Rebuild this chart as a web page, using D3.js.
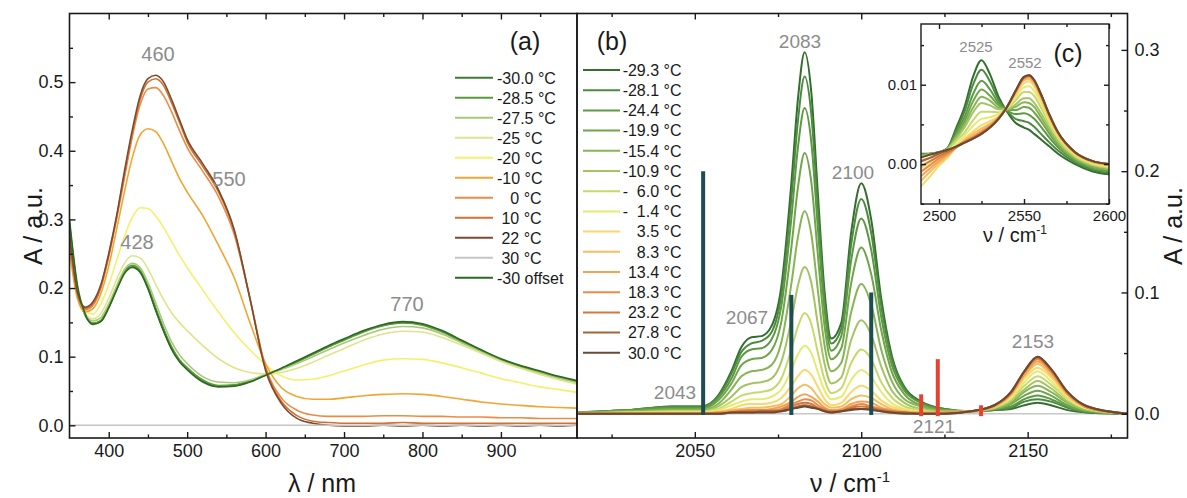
<!DOCTYPE html>
<html>
<head>
<meta charset="utf-8">
<script src="https://cdn.jsdelivr.net/npm/d3@7"></script>
<style>
  body { margin: 0; background: #fff; }
  svg text { font-family: "Liberation Sans", Arial, sans-serif; }
</style>
</head>
<body>
<div id="chart"></div>
<script>
const WIDTH = 1187;
const HEIGHT = 498;

// ---------- (a) UV-vis ----------
const wavelengths = [350, 360, 370, 380, 390, 400, 410, 420, 430, 440, 450, 460, 470, 480, 490, 500, 520, 540, 560, 580,
  600, 620, 640, 660, 680, 700, 725, 750, 775, 800, 825, 850, 875, 900, 925, 950, 975, 997];
const uv_m30_0 = [0.295, 0.200, 0.160, 0.148, 0.152, 0.172, 0.198, 0.222, 0.231, 0.224, 0.200, 0.168, 0.138, 0.112, 0.094, 0.082, 0.064, 0.057, 0.058, 0.064,
  0.073, 0.082, 0.093, 0.104, 0.115, 0.125, 0.137, 0.146, 0.150, 0.147, 0.137, 0.123, 0.109, 0.096, 0.086, 0.078, 0.070, 0.064];
const uv_m28_5 = [0.290, 0.200, 0.161, 0.149, 0.153, 0.173, 0.200, 0.224, 0.233, 0.226, 0.203, 0.171, 0.141, 0.115, 0.096, 0.084, 0.066, 0.058, 0.059, 0.065,
  0.074, 0.082, 0.092, 0.103, 0.114, 0.124, 0.136, 0.145, 0.149, 0.146, 0.136, 0.122, 0.108, 0.095, 0.085, 0.077, 0.069, 0.063];
const uv_m27_5 = [0.280, 0.200, 0.163, 0.152, 0.157, 0.177, 0.203, 0.227, 0.236, 0.230, 0.208, 0.178, 0.148, 0.122, 0.103, 0.090, 0.071, 0.063, 0.062, 0.066,
  0.074, 0.081, 0.090, 0.100, 0.110, 0.120, 0.131, 0.140, 0.144, 0.142, 0.133, 0.120, 0.107, 0.094, 0.084, 0.076, 0.068, 0.062];
const uv_m25 = [0.270, 0.195, 0.162, 0.155, 0.163, 0.185, 0.212, 0.236, 0.247, 0.244, 0.228, 0.205, 0.183, 0.164, 0.150, 0.138, 0.116, 0.097, 0.084, 0.077,
  0.075, 0.077, 0.083, 0.092, 0.102, 0.112, 0.124, 0.133, 0.137, 0.136, 0.128, 0.117, 0.105, 0.093, 0.083, 0.074, 0.066, 0.060];
const uv_m20 = [0.260, 0.190, 0.165, 0.162, 0.177, 0.205, 0.240, 0.275, 0.303, 0.317, 0.316, 0.305, 0.288, 0.268, 0.248, 0.230, 0.197, 0.165, 0.135, 0.110,
  0.088, 0.072, 0.066, 0.067, 0.072, 0.079, 0.088, 0.095, 0.097, 0.096, 0.091, 0.084, 0.076, 0.068, 0.062, 0.056, 0.052, 0.048];
const uv_m10 = [0.255, 0.185, 0.165, 0.170, 0.192, 0.232, 0.285, 0.340, 0.390, 0.423, 0.432, 0.428, 0.410, 0.385, 0.360, 0.340, 0.305, 0.262, 0.215, 0.150,
  0.090, 0.055, 0.042, 0.038, 0.038, 0.040, 0.043, 0.045, 0.046, 0.045, 0.042, 0.038, 0.034, 0.031, 0.029, 0.027, 0.026, 0.025];
const uv_0 = [0.265, 0.190, 0.168, 0.175, 0.200, 0.245, 0.300, 0.360, 0.420, 0.467, 0.490, 0.492, 0.480, 0.457, 0.430, 0.405, 0.370, 0.333, 0.278, 0.185,
  0.085, 0.040, 0.022, 0.015, 0.013, 0.013, 0.013, 0.014, 0.014, 0.013, 0.013, 0.012, 0.012, 0.011, 0.011, 0.010, 0.010, 0.010];
const uv_10 = [0.270, 0.193, 0.170, 0.177, 0.202, 0.248, 0.303, 0.365, 0.425, 0.475, 0.500, 0.505, 0.495, 0.470, 0.442, 0.413, 0.377, 0.340, 0.283, 0.185,
  0.083, 0.035, 0.014, 0.006, 0.004, 0.003, 0.003, 0.003, 0.004, 0.003, 0.003, 0.003, 0.003, 0.003, 0.003, 0.003, 0.003, 0.003];
const uv_22 = [0.280, 0.195, 0.172, 0.180, 0.205, 0.250, 0.305, 0.370, 0.430, 0.480, 0.505, 0.510, 0.500, 0.475, 0.446, 0.417, 0.381, 0.343, 0.285, 0.185,
  0.080, 0.032, 0.010, 0.003, 0.000, -0.001, -0.001, 0.000, -0.001, 0.000, -0.001, 0.000, -0.001, 0.000, -0.001, 0.000, -0.001, 0.000];
const uv_30 = [0, 0, 0, 0, 0, 0, 0, 0, 0, 0, 0, 0, 0, 0, 0, 0, 0, 0, 0, 0,
  0, 0, 0, 0, 0, 0, 0, 0, 0, 0, 0, 0, 0, 0, 0, 0, 0, 0];
const uv_m30_offset = [0.300, 0.205, 0.162, 0.147, 0.151, 0.171, 0.197, 0.221, 0.230, 0.223, 0.199, 0.167, 0.137, 0.111, 0.093, 0.081, 0.063, 0.056, 0.057, 0.063,
  0.073, 0.083, 0.094, 0.105, 0.116, 0.126, 0.138, 0.147, 0.151, 0.148, 0.138, 0.124, 0.110, 0.097, 0.087, 0.079, 0.071, 0.065];
const uvLabels = ["-30.0 °C", "-28.5 °C", "-27.5 °C", "-25 °C", "-20 °C", "-10 °C", "   0 °C", " 10 °C", " 22 °C", " 30 °C", "-30 offset"];
const uvColors = ["#3f7b30", "#5b9a3a", "#a9c877", "#dfe48c", "#f5f06c", "#f1a532", "#eb8c46", "#d07232", "#7b4a30", "#c4c4c4", "#2c6a24"];
const uvSeries = [uv_m30_0, uv_m28_5, uv_m27_5, uv_m25, uv_m20, uv_m10, uv_0, uv_10, uv_22, uv_30, uv_m30_offset];

// ---------- (b) IR, CN stretch ----------
const wavenumbers = [2015, 2030, 2043, 2052, 2057, 2061, 2064, 2067, 2070, 2073, 2076, 2079, 2081, 2083, 2085, 2087, 2089, 2091,
  2094, 2097, 2100, 2103, 2106, 2109, 2113, 2118, 2125, 2133, 2140, 2145, 2149, 2153, 2157, 2162, 2168, 2180];
const ir_m29_3 = [0.001, 0.003, 0.006, 0.006, 0.015, 0.035, 0.055, 0.063, 0.064, 0.072, 0.105, 0.190, 0.260, 0.298, 0.265, 0.180, 0.100, 0.062,
  0.075, 0.150, 0.190, 0.160, 0.095, 0.050, 0.022, 0.010, 0.004, 0.002, 0.003, 0.004, 0.007, 0.009, 0.007, 0.003, 0.001, 0.000];
const ir_m28_1 = [0.001, 0.003, 0.006, 0.006, 0.014, 0.033, 0.051, 0.058, 0.060, 0.067, 0.098, 0.177, 0.242, 0.278, 0.247, 0.168, 0.093, 0.058,
  0.070, 0.140, 0.177, 0.149, 0.089, 0.047, 0.021, 0.009, 0.004, 0.002, 0.003, 0.005, 0.010, 0.012, 0.010, 0.005, 0.001, 0.000];
const ir_m24_4 = [0.001, 0.003, 0.005, 0.005, 0.013, 0.029, 0.047, 0.053, 0.054, 0.061, 0.089, 0.161, 0.220, 0.252, 0.224, 0.152, 0.085, 0.052,
  0.064, 0.127, 0.161, 0.135, 0.080, 0.042, 0.019, 0.009, 0.003, 0.002, 0.004, 0.006, 0.012, 0.015, 0.012, 0.006, 0.002, 0.000];
const ir_m19_9 = [0.001, 0.002, 0.004, 0.004, 0.011, 0.025, 0.040, 0.045, 0.046, 0.052, 0.076, 0.137, 0.187, 0.215, 0.191, 0.130, 0.072, 0.045,
  0.054, 0.108, 0.137, 0.115, 0.069, 0.036, 0.016, 0.007, 0.003, 0.002, 0.004, 0.008, 0.015, 0.019, 0.015, 0.007, 0.002, 0.000];
const ir_m15_4 = [0.001, 0.002, 0.003, 0.003, 0.008, 0.020, 0.031, 0.035, 0.036, 0.040, 0.059, 0.107, 0.146, 0.167, 0.148, 0.101, 0.056, 0.035,
  0.042, 0.084, 0.107, 0.090, 0.053, 0.028, 0.012, 0.006, 0.002, 0.002, 0.004, 0.009, 0.018, 0.023, 0.018, 0.009, 0.003, 0.000];
const ir_m10_9 = [0.000, 0.001, 0.002, 0.002, 0.006, 0.014, 0.022, 0.025, 0.026, 0.029, 0.043, 0.077, 0.106, 0.121, 0.108, 0.073, 0.041, 0.025,
  0.030, 0.061, 0.077, 0.065, 0.039, 0.020, 0.009, 0.004, 0.002, 0.002, 0.005, 0.011, 0.020, 0.027, 0.021, 0.010, 0.003, 0.000];
const ir_m6_0 = [0.000, 0.001, 0.002, 0.002, 0.004, 0.010, 0.015, 0.017, 0.018, 0.020, 0.029, 0.053, 0.072, 0.083, 0.074, 0.050, 0.028, 0.017,
  0.021, 0.042, 0.053, 0.045, 0.026, 0.014, 0.006, 0.003, 0.001, 0.002, 0.005, 0.012, 0.023, 0.031, 0.024, 0.012, 0.004, 0.000];
const ir_m1_4 = [0.000, 0.001, 0.001, 0.001, 0.003, 0.007, 0.010, 0.012, 0.012, 0.014, 0.020, 0.036, 0.049, 0.056, 0.050, 0.034, 0.019, 0.012,
  0.014, 0.028, 0.036, 0.030, 0.018, 0.009, 0.004, 0.002, 0.001, 0.002, 0.006, 0.013, 0.026, 0.035, 0.027, 0.013, 0.004, 0.000];
const ir_3_5 = [0.000, 0.000, 0.001, 0.001, 0.002, 0.004, 0.007, 0.008, 0.008, 0.009, 0.013, 0.023, 0.031, 0.036, 0.032, 0.022, 0.012, 0.007,
  0.009, 0.018, 0.023, 0.019, 0.011, 0.006, 0.003, 0.001, 0.001, 0.002, 0.006, 0.015, 0.029, 0.038, 0.030, 0.014, 0.005, 0.000];
const ir_8_3 = [0.000, 0.000, 0.000, 0.000, 0.001, 0.003, 0.004, 0.005, 0.005, 0.006, 0.008, 0.015, 0.021, 0.024, 0.021, 0.014, 0.008, 0.005,
  0.006, 0.012, 0.015, 0.013, 0.008, 0.004, 0.002, 0.001, 0.001, 0.002, 0.006, 0.016, 0.031, 0.041, 0.032, 0.016, 0.005, 0.000];
const ir_13_4 = [0.000, 0.000, 0.000, 0.000, 0.001, 0.002, 0.003, 0.003, 0.003, 0.004, 0.006, 0.010, 0.014, 0.016, 0.014, 0.010, 0.005, 0.003,
  0.004, 0.008, 0.010, 0.009, 0.005, 0.003, 0.001, 0.001, 0.001, 0.002, 0.006, 0.016, 0.032, 0.043, 0.034, 0.016, 0.005, 0.000];
const ir_18_3 = [0.000, 0.000, 0.000, 0.000, 0.001, 0.001, 0.002, 0.003, 0.003, 0.003, 0.004, 0.008, 0.010, 0.012, 0.011, 0.007, 0.004, 0.002,
  0.003, 0.006, 0.008, 0.006, 0.004, 0.002, 0.001, 0.000, 0.001, 0.002, 0.007, 0.017, 0.034, 0.045, 0.035, 0.017, 0.005, 0.000];
const ir_23_2 = [0.000, 0.000, 0.000, 0.000, 0.000, 0.001, 0.002, 0.002, 0.002, 0.002, 0.003, 0.006, 0.008, 0.009, 0.008, 0.005, 0.003, 0.002,
  0.002, 0.005, 0.006, 0.005, 0.003, 0.002, 0.001, 0.000, 0.000, 0.002, 0.007, 0.017, 0.035, 0.046, 0.036, 0.017, 0.006, 0.000];
const ir_27_8 = [0.000, 0.000, 0.000, 0.000, 0.000, 0.001, 0.001, 0.001, 0.002, 0.002, 0.002, 0.004, 0.006, 0.007, 0.006, 0.004, 0.002, 0.001,
  0.002, 0.004, 0.004, 0.004, 0.002, 0.001, 0.001, 0.000, 0.000, 0.002, 0.007, 0.018, 0.035, 0.047, 0.037, 0.018, 0.006, 0.000];
const ir_30_0 = [0.000, 0.000, 0.000, 0.000, 0.000, 0.001, 0.001, 0.001, 0.001, 0.001, 0.002, 0.004, 0.005, 0.006, 0.005, 0.004, 0.002, 0.001,
  0.002, 0.003, 0.004, 0.003, 0.002, 0.001, 0.000, 0.000, 0.000, 0.002, 0.007, 0.018, 0.035, 0.047, 0.037, 0.018, 0.006, 0.000];
const irLabels = ["-29.3 °C", "-28.1 °C", "-24.4 °C", "-19.9 °C", "-15.4 °C", "-10.9 °C", "-  6.0 °C", "-  1.4 °C",
  "3.5 °C", "8.3 °C", "13.4 °C", "18.3 °C", "23.2 °C", "27.8 °C", "30.0 °C"];
const irColors = ["#336e2e", "#4b8a3f", "#5d9944", "#6fa649", "#87b455", "#a4c463", "#c6da6c", "#e7ea72",
  "#f9d86c", "#f3bf60", "#f1a456", "#ed8b46", "#d5763b", "#a7633a", "#6a4a35"];
const irSeries = [ir_m29_3, ir_m28_1, ir_m24_4, ir_m19_9, ir_m15_4, ir_m10_9, ir_m6_0, ir_m1_4,
  ir_3_5, ir_8_3, ir_13_4, ir_18_3, ir_23_2, ir_27_8, ir_30_0];

// calculated band positions (sticks)
const stickTealPos = [2052.5, 2079, 2103];
const stickTealHeight = [0.2, 0.098, 0.1];
const stickRedPos = [2118, 2123, 2136];
const stickRedHeight = [0.016, 0.045, 0.007];

// ---------- (c) inset, BH stretch ----------
const insetWavenumbers = [2489, 2495, 2500, 2505, 2510, 2515, 2520, 2525, 2530, 2535, 2540, 2545, 2550, 2553, 2556, 2560, 2565, 2570, 2580, 2590, 2600];
const bh_m29_3 = [0.0013, 0.0013, 0.0015, 0.0020, 0.0045, 0.0072, 0.0110, 0.0131, 0.0113, 0.0085, 0.0066, 0.0052, 0.0046, 0.0043, 0.0038, 0.0031, 0.0022, 0.0013, 0.0000, -0.0009, -0.0013];
const bh_m28_1 = [0.0012, 0.0013, 0.0015, 0.0020, 0.0042, 0.0066, 0.0100, 0.0119, 0.0104, 0.0081, 0.0067, 0.0057, 0.0054, 0.0052, 0.0047, 0.0038, 0.0027, 0.0017, 0.0002, -0.0007, -0.0011];
const bh_m24_4 = [0.0012, 0.0013, 0.0015, 0.0019, 0.0039, 0.0059, 0.0088, 0.0105, 0.0094, 0.0077, 0.0068, 0.0063, 0.0064, 0.0062, 0.0057, 0.0047, 0.0033, 0.0021, 0.0004, -0.0005, -0.0009];
const bh_m19_9 = [0.0011, 0.0013, 0.0015, 0.0019, 0.0036, 0.0054, 0.0079, 0.0094, 0.0086, 0.0074, 0.0068, 0.0068, 0.0072, 0.0071, 0.0065, 0.0054, 0.0038, 0.0024, 0.0006, -0.0004, -0.0008];
const bh_m15_4 = [0.0011, 0.0013, 0.0015, 0.0019, 0.0034, 0.0050, 0.0071, 0.0085, 0.0080, 0.0071, 0.0069, 0.0072, 0.0078, 0.0077, 0.0072, 0.0059, 0.0042, 0.0026, 0.0007, -0.0003, -0.0007];
const bh_m10_9 = [0.0010, 0.0012, 0.0015, 0.0019, 0.0032, 0.0046, 0.0065, 0.0077, 0.0074, 0.0069, 0.0069, 0.0075, 0.0083, 0.0083, 0.0077, 0.0064, 0.0045, 0.0029, 0.0009, -0.0001, -0.0005];
const bh_m6_0 = [0.0005, 0.0008, 0.0013, 0.0018, 0.0029, 0.0040, 0.0055, 0.0066, 0.0066, 0.0065, 0.0070, 0.0080, 0.0091, 0.0091, 0.0086, 0.0071, 0.0050, 0.0032, 0.0010, 0.0000, -0.0004];
const bh_m1_4 = [-0.0006, 0.0002, 0.0008, 0.0014, 0.0025, 0.0036, 0.0048, 0.0057, 0.0059, 0.0063, 0.0071, 0.0084, 0.0097, 0.0098, 0.0092, 0.0077, 0.0054, 0.0035, 0.0012, 0.0001, -0.0003];
const bh_3_5 = [-0.0029, -0.0015, -0.0002, 0.0008, 0.0021, 0.0032, 0.0041, 0.0049, 0.0054, 0.0060, 0.0071, 0.0087, 0.0102, 0.0104, 0.0098, 0.0081, 0.0057, 0.0037, 0.0013, 0.0002, -0.0002];
const bh_8_3 = [-0.0022, -0.0009, 0.0001, 0.0010, 0.0021, 0.0030, 0.0038, 0.0045, 0.0051, 0.0059, 0.0072, 0.0089, 0.0106, 0.0107, 0.0101, 0.0084, 0.0059, 0.0038, 0.0014, 0.0003, -0.0001];
const bh_13_4 = [-0.0016, -0.0005, 0.0004, 0.0012, 0.0021, 0.0029, 0.0035, 0.0042, 0.0049, 0.0058, 0.0072, 0.0090, 0.0107, 0.0109, 0.0103, 0.0086, 0.0060, 0.0039, 0.0014, 0.0003, -0.0001];
const bh_18_3 = [-0.0010, -0.0001, 0.0007, 0.0013, 0.0021, 0.0028, 0.0034, 0.0040, 0.0047, 0.0058, 0.0072, 0.0091, 0.0109, 0.0111, 0.0105, 0.0087, 0.0061, 0.0039, 0.0015, 0.0004, 0.0000];
const bh_23_2 = [-0.0003, 0.0004, 0.0010, 0.0015, 0.0021, 0.0027, 0.0033, 0.0039, 0.0047, 0.0057, 0.0072, 0.0092, 0.0109, 0.0111, 0.0105, 0.0087, 0.0062, 0.0040, 0.0015, 0.0004, 0.0000];
const bh_27_8 = [0.0003, 0.0008, 0.0013, 0.0017, 0.0022, 0.0027, 0.0032, 0.0038, 0.0046, 0.0057, 0.0072, 0.0092, 0.0110, 0.0112, 0.0106, 0.0088, 0.0062, 0.0040, 0.0015, 0.0004, 0.0000];
const bh_30_0 = [0.0008, 0.0012, 0.0015, 0.0018, 0.0022, 0.0027, 0.0032, 0.0038, 0.0046, 0.0057, 0.0072, 0.0092, 0.0110, 0.0112, 0.0106, 0.0088, 0.0062, 0.0040, 0.0015, 0.0004, 0.0000];
const bhSeries = [bh_m29_3, bh_m28_1, bh_m24_4, bh_m19_9, bh_m15_4, bh_m10_9, bh_m6_0, bh_m1_4,
  bh_3_5, bh_8_3, bh_13_4, bh_18_3, bh_23_2, bh_27_8, bh_30_0];

// ticks
const aXMajor = [400, 500, 600, 700, 800, 900];
const aXMinor = [450, 550, 650, 750, 850, 950];
const aYMajor = [0, 0.1, 0.2, 0.3, 0.4, 0.5];
const aYMinor = [0.05, 0.15, 0.25, 0.35, 0.45, 0.55];
const bXMajor = [2050, 2100, 2150];
const bXMinor = [2025, 2075, 2125, 2175];
const bYMajor = [0, 0.1, 0.2, 0.3];
const bYMinor = [0.05, 0.15, 0.25];
const cXMajor = [2500, 2550, 2600];
const cXMinor = [2525, 2575];
const cYMajor = [0, 0.01];
const cYMinor = [-0.005, 0.005, 0.015];

// ---------- drawing ----------
const INK = "#1a1a1a";
const GREY = "#8c8c8c";
const svg = d3.select("#chart").append("svg").attr("width", WIDTH).attr("height", HEIGHT);
svg.append("rect").attr("width", WIDTH).attr("height", HEIGHT).attr("fill", "#fff");

const fa = { x0: 69.5, x1: 577, y0: 13.5, y1: 438 };
const fb = { x0: 577, x1: 1127.5, y0: 13.5, y1: 438 };
const fc = { x0: 921, x1: 1109, y0: 24, y1: 204 };

const xA = d3.scaleLinear().domain([350, 997]).range([fa.x0, fa.x1]);
const yA = d3.scaleLinear().domain([-0.0185, 0.6]).range([fa.y1, fa.y0]);
const xB = d3.scaleLinear().domain([2014.6, 2180]).range([fb.x0, fb.x1]);
const yB = d3.scaleLinear().domain([-0.02, 0.33]).range([fb.y1, fb.y0]);
const xC = d3.scaleLinear().domain([2489.4, 2600]).range([fc.x0, fc.x1]);
const yC = d3.scaleLinear().domain([-0.00504, 0.01766]).range([fc.y1, fc.y0]);

const defs = svg.append("defs");
function clip(id, f) {
  defs.append("clipPath").attr("id", id).append("rect")
    .attr("x", f.x0).attr("y", f.y0).attr("width", f.x1 - f.x0).attr("height", f.y1 - f.y0);
}
clip("clipA", fa);
clip("clipB", fb);
clip("clipC", fc);

function drawLines(parent, xs, series, colors, x, y, width) {
  const line = d3.line()
    .x((d, i) => x(xs[i]))
    .y(d => y(d))
    .curve(d3.curveMonotoneX);
  parent.selectAll(null)
    .data(series)
    .enter()
    .append("path")
    .attr("d", d => line(d))
    .attr("fill", "none")
    .attr("stroke", (d, i) => colors[i])
    .attr("stroke-width", width)
    .attr("stroke-linejoin", "round");
}

function tickAxis(axisFn, scale, values, len, tx, ty, labels, fontSize, pad) {
  const ax = axisFn(scale)
    .tickValues(values)
    .tickSizeInner(-len)
    .tickSizeOuter(0)
    .tickPadding(pad || 6)
    .tickFormat(labels ? (d, i) => labels[i] : () => "");
  const g = svg.append("g").attr("transform", `translate(${tx},${ty})`).call(ax);
  g.select(".domain").remove();
  g.attr("font-family", null).attr("font-size", null);
  g.selectAll(".tick line").attr("stroke", INK).attr("stroke-width", 1.4);
  g.selectAll(".tick text").attr("fill", INK).attr("font-size", fontSize || 18);
  return g;
}

// panel (a)
const gA = svg.append("g").attr("clip-path", "url(#clipA)");
drawLines(gA, wavelengths, uvSeries, uvColors, xA, yA, 1.6);

tickAxis(d3.axisBottom, xA, aXMajor, 6, 0, fa.y1, aXMajor.map(String), 18, 6);
tickAxis(d3.axisBottom, xA, aXMinor, 3.5, 0, fa.y1);
tickAxis(d3.axisTop, xA, aXMajor, 6, 0, fa.y0);
tickAxis(d3.axisTop, xA, aXMinor, 3.5, 0, fa.y0);
tickAxis(d3.axisLeft, yA, aYMajor, 6, fa.x0, 0, aYMajor.map(d => d.toFixed(1)), 18, 6);
tickAxis(d3.axisLeft, yA, aYMinor, 3.5, fa.x0, 0);

// panel (b)
const gB = svg.append("g").attr("clip-path", "url(#clipB)");
gB.append("line")
  .attr("x1", fb.x0).attr("x2", fb.x1)
  .attr("y1", yB(0)).attr("y2", yB(0))
  .attr("stroke", "#c8c8c8").attr("stroke-width", 1.5);
drawLines(gB, wavenumbers, irSeries, irColors, xB, yB, 2);

gB.selectAll(".teal")
  .data(stickTealPos)
  .enter()
  .append("line")
  .attr("x1", d => xB(d)).attr("x2", d => xB(d))
  .attr("y1", yB(-0.001)).attr("y2", (d, i) => yB(stickTealHeight[i]))
  .attr("stroke", "#1d4c52").attr("stroke-width", 4);
gB.selectAll(".red")
  .data(stickRedPos)
  .enter()
  .append("line")
  .attr("x1", d => xB(d)).attr("x2", d => xB(d))
  .attr("y1", yB(-0.002)).attr("y2", (d, i) => yB(stickRedHeight[i]))
  .attr("stroke", "#e5432f").attr("stroke-width", 4);

tickAxis(d3.axisBottom, xB, bXMajor, 6, 0, fb.y1, bXMajor.map(String), 18, 6);
tickAxis(d3.axisBottom, xB, bXMinor, 3.5, 0, fb.y1);
tickAxis(d3.axisTop, xB, bXMajor, 6, 0, fb.y0);
tickAxis(d3.axisTop, xB, bXMinor, 3.5, 0, fb.y0);
tickAxis(d3.axisRight, yB, bYMajor, 6, fb.x1, 0, bYMajor.map(d => d.toFixed(1)), 18, 7);
tickAxis(d3.axisRight, yB, bYMinor, 3.5, fb.x1, 0);

// frames
[fa, fb].forEach(f => {
  svg.append("rect")
    .attr("x", f.x0).attr("y", f.y0)
    .attr("width", f.x1 - f.x0).attr("height", f.y1 - f.y0)
    .attr("fill", "none").attr("stroke", INK).attr("stroke-width", 1.6);
});

// legends
const legA = svg.append("g");
uvLabels.forEach((label, i) => {
  const yy = 77.7 + i * 20;
  legA.append("line").attr("x1", 455).attr("x2", 493).attr("y1", yy).attr("y2", yy)
    .attr("stroke", uvColors[i]).attr("stroke-width", 2);
  legA.append("text").attr("x", 497).attr("y", yy + 5.8)
    .attr("font-size", 16).attr("fill", INK).style("white-space", "pre").text(label);
});
const legB = svg.append("g");
irLabels.forEach((label, i) => {
  const yy = 70 + i * 20.2;
  legB.append("line").attr("x1", 583).attr("x2", 620).attr("y1", yy).attr("y2", yy)
    .attr("stroke", irColors[i]).attr("stroke-width", 2);
  legB.append("text").attr("x", 681.5).attr("y", yy + 5.8).attr("text-anchor", "end")
    .attr("font-size", 16).attr("fill", INK).style("white-space", "pre").text(label);
});

// annotations
function note(x, y, t, size, color) {
  svg.append("text").attr("x", x).attr("y", y).attr("text-anchor", "middle")
    .attr("font-size", size).attr("fill", color || GREY).text(t);
}
note(158, 61, "460", 20);
note(229, 186, "550", 20);
note(137, 249, "428", 20);
note(407, 311, "770", 20);
note(800, 48, "2083", 19);
note(747, 324, "2067", 19);
note(675, 399, "2043", 19);
note(853, 179, "2100", 19);
note(934, 433, "2121", 19);
note(1033, 348, "2153", 19);
note(525, 50, "(a)", 25, INK);
note(612, 50, "(b)", 25, INK);

// axis titles
svg.append("text").attr("transform", "translate(42,226) rotate(-90)").attr("text-anchor", "middle")
  .attr("font-size", 25).attr("fill", INK).text("A / a.u.");
svg.append("text").attr("transform", "translate(1182,226) rotate(-90)").attr("text-anchor", "middle")
  .attr("font-size", 25).attr("fill", INK).text("A / a.u.");
svg.append("text").attr("x", 322).attr("y", 492).attr("text-anchor", "middle")
  .attr("font-size", 25).attr("fill", INK).text("λ / nm");
const nuB = svg.append("text").attr("x", 850).attr("y", 492).attr("text-anchor", "middle")
  .attr("font-size", 25).attr("fill", INK);
nuB.append("tspan").text("ν / cm");
nuB.append("tspan").attr("font-size", 15).attr("dy", -10).text("-1");

// inset (c)
svg.append("rect").attr("x", fc.x0).attr("y", fc.y0)
  .attr("width", fc.x1 - fc.x0).attr("height", fc.y1 - fc.y0).attr("fill", "#fff");
const gC = svg.append("g").attr("clip-path", "url(#clipC)");
drawLines(gC, insetWavenumbers, bhSeries, irColors, xC, yC, 2);

tickAxis(d3.axisBottom, xC, cXMajor, 5, 0, fc.y1, cXMajor.map(String), 15, 6);
tickAxis(d3.axisBottom, xC, cXMinor, 3, 0, fc.y1);
tickAxis(d3.axisTop, xC, cXMajor, 5, 0, fc.y0);
tickAxis(d3.axisTop, xC, cXMinor, 3, 0, fc.y0);
tickAxis(d3.axisLeft, yC, cYMajor, 5, fc.x0, 0, cYMajor.map(d => d.toFixed(2)), 15, 4);
tickAxis(d3.axisLeft, yC, cYMinor, 3, fc.x0, 0);
tickAxis(d3.axisRight, yC, cYMajor, 5, fc.x1, 0);
tickAxis(d3.axisRight, yC, cYMinor, 3, fc.x1, 0);
svg.append("rect").attr("x", fc.x0).attr("y", fc.y0)
  .attr("width", fc.x1 - fc.x0).attr("height", fc.y1 - fc.y0)
  .attr("fill", "none").attr("stroke", INK).attr("stroke-width", 1.4);

note(976, 52, "2525", 15);
note(1025, 68, "2552", 15);
note(1068, 62, "(c)", 25, INK);
const nuC = svg.append("text").attr("x", 1015).attr("y", 242).attr("text-anchor", "middle")
  .attr("font-size", 20).attr("fill", INK);
nuC.append("tspan").text("ν / cm");
nuC.append("tspan").attr("font-size", 12).attr("dy", -8).text("-1");
</script>
</body>
</html>
